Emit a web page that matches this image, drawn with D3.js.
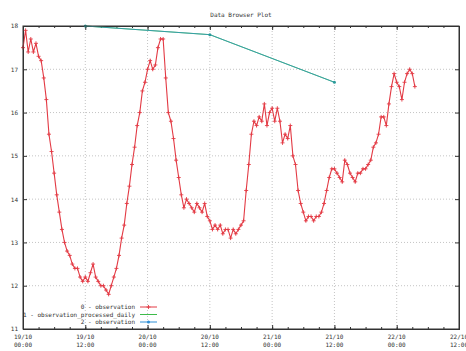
<!DOCTYPE html>
<html>
<head>
<meta charset="utf-8">
<script src="https://cdn.jsdelivr.net/npm/d3@7"></script>
<style>
  body { margin: 0; background: #fff; }
  text { font-family: "DejaVu Sans Mono", monospace; font-size: 6px; fill: #333; }
</style>
</head>
<body>
<svg id="chart"></svg>
<script>
const title = "Data Browser Plot";

// 0 - observation, one reading every 30 minutes from 19/10 00:00
const obsStart = new Date(Date.UTC(2008, 9, 19, 0, 0));
const obsStepMinutes = 30;
const observation = [
  17.5, 17.9, 17.4, 17.7, 17.4, 17.6, 17.3, 17.2, 16.8, 16.3,
  15.5, 15.1, 14.6, 14.1, 13.7, 13.3, 13.0, 12.8, 12.7, 12.5,
  12.4, 12.4, 12.2, 12.1, 12.2, 12.1, 12.3, 12.5, 12.2, 12.1,
  12.0, 12.0, 11.9, 11.8, 12.0, 12.2, 12.4, 12.7, 13.1, 13.4,
  13.9, 14.3, 14.8, 15.2, 15.7, 16.0, 16.5, 16.7, 17.0, 17.2,
  17.0, 17.1, 17.5, 17.7, 17.7, 16.8, 16.0, 15.8, 15.4, 14.9,
  14.5, 14.1, 13.8, 14.0, 13.9, 13.8, 13.7, 13.9, 13.8, 13.7,
  13.9, 13.6, 13.5, 13.3, 13.4, 13.3, 13.4, 13.2, 13.3, 13.3,
  13.1, 13.3, 13.2, 13.3, 13.4, 13.5, 14.2, 14.8, 15.5, 15.8,
  15.7, 15.9, 15.8, 16.2, 15.7, 16.0, 16.1, 15.8, 16.1, 15.8,
  15.3, 15.5, 15.4, 15.7, 15.0, 14.8, 14.2, 13.9, 13.7, 13.5,
  13.6, 13.6, 13.5, 13.6, 13.6, 13.7, 13.9, 14.2, 14.5, 14.7,
  14.7, 14.6, 14.5, 14.4, 14.9, 14.8, 14.6, 14.5, 14.4, 14.6,
  14.6, 14.7, 14.7, 14.8, 14.9, 15.2, 15.3, 15.5, 15.9, 15.9,
  15.7, 16.2, 16.6, 16.9, 16.7, 16.6, 16.3, 16.7, 16.9, 17.0,
  16.9, 16.6
];

// 1 - observation_processed_daily and 2 - observation (daily points)
const dailyDates = ["2008-10-19T12:00Z", "2008-10-20T12:00Z", "2008-10-21T12:00Z"];
const dailyValues = [18.0, 17.8, 16.7];

const legendLabels = ["0 - observation", "1 - observation_processed_daily", "2 - observation"];
const seriesColors = ["#e33a44", "#3dbb4a", "#2f8fd6"];

const width = 466, height = 351;
const margin = { top: 26, right: 7, bottom: 22, left: 23 };

const svg = d3.select("#chart")
  .attr("width", width)
  .attr("height", height);

const obsData = observation.map((v, i) => ({
  t: new Date(obsStart.getTime() + i * obsStepMinutes * 60000),
  v: v
}));
const dailyData = dailyDates.map((d, i) => ({ t: new Date(d), v: dailyValues[i] }));

const x = d3.scaleUtc()
  .domain([obsStart, new Date(Date.UTC(2008, 9, 22, 12, 0))])
  .range([margin.left, width - margin.right]);

const y = d3.scaleLinear()
  .domain([11, 18])
  .range([height - margin.bottom, margin.top]);

const majorX = x.ticks(d3.utcHour.every(12));
const minorX = x.ticks(d3.utcHour.every(3));
const majorY = d3.range(11, 19);

// dotted grid
const grid = svg.append("g").attr("stroke", "#c4c4c4").attr("stroke-dasharray", "1,2");
grid.selectAll(".gx")
  .data(majorX.slice(1, -1))
  .enter().append("line")
  .attr("x1", d => x(d)).attr("x2", d => x(d))
  .attr("y1", y(11)).attr("y2", y(18));
grid.selectAll(".gy")
  .data(majorY.slice(1, -1))
  .enter().append("line")
  .attr("x1", x.range()[0]).attr("x2", x.range()[1])
  .attr("y1", d => y(d)).attr("y2", d => y(d));

// inward ticks on all four sides
svg.append("g")
  .attr("transform", `translate(0,${y(11)})`)
  .call(d3.axisBottom(x).tickValues(minorX).tickSize(-2).tickFormat(""));
svg.append("g")
  .attr("transform", `translate(0,${y(18)})`)
  .call(d3.axisTop(x).tickValues(minorX).tickSize(-2).tickFormat(""));
svg.append("g")
  .attr("transform", `translate(0,${y(11)})`)
  .call(d3.axisBottom(x).tickValues(majorX).tickSize(-4).tickFormat(""));
svg.append("g")
  .attr("transform", `translate(0,${y(18)})`)
  .call(d3.axisTop(x).tickValues(majorX).tickSize(-4).tickFormat(""));
svg.append("g")
  .attr("transform", `translate(${x.range()[0]},0)`)
  .call(d3.axisLeft(y).tickValues(majorY).tickSize(-4).tickPadding(5).tickFormat(d3.format("d")));
svg.append("g")
  .attr("transform", `translate(${x.range()[1]},0)`)
  .call(d3.axisRight(y).tickValues(majorY).tickSize(-4).tickFormat(""));

svg.selectAll(".domain").attr("stroke", "#333");
svg.selectAll(".tick line").attr("stroke", "#333");
svg.selectAll(".tick text").attr("font-size", null).attr("font-family", null).attr("fill", null);

// two-line time labels under the bottom axis
const fmtDay = d3.utcFormat("%d/%m");
const fmtHour = d3.utcFormat("%H:%M");
const xl = svg.append("g").selectAll("text")
  .data(majorX)
  .enter().append("text")
  .attr("text-anchor", "middle")
  .attr("x", d => x(d))
  .attr("y", y(11) + 10);
xl.append("tspan").attr("x", d => x(d)).text(d => fmtDay(d));
xl.append("tspan").attr("x", d => x(d)).attr("dy", 8).text(d => fmtHour(d));

// title
svg.append("text")
  .attr("x", (x.range()[0] + x.range()[1]) / 2)
  .attr("y", 17)
  .attr("text-anchor", "middle")
  .text(title);

// series 0 : observation
const line = d3.line().x(d => x(d.t)).y(d => y(d.v));
svg.append("path")
  .datum(obsData)
  .attr("fill", "none")
  .attr("stroke", seriesColors[0])
  .attr("stroke-width", 1.1)
  .attr("d", line);

svg.append("g").selectAll("path")
  .data(obsData)
  .enter().append("path")
  .attr("transform", d => `translate(${x(d.t)},${y(d.v)})`)
  .attr("d", "M-2,0H2M0,-2V2")
  .attr("stroke", seriesColors[0])
  .attr("stroke-width", 0.9)
  .attr("fill", "none");

// series 1 and 2 : daily values, drawn on top of each other
svg.append("path")
  .datum(dailyData)
  .attr("fill", "none")
  .attr("stroke", seriesColors[1])
  .attr("stroke-width", 1)
  .attr("d", line);
svg.append("path")
  .datum(dailyData)
  .attr("fill", "none")
  .attr("stroke", seriesColors[2])
  .attr("stroke-width", 1)
  .attr("opacity", 0.65)
  .attr("d", line);
svg.append("g").selectAll("circle")
  .data(dailyData)
  .enter().append("circle")
  .attr("cx", d => x(d.t))
  .attr("cy", d => y(d.v))
  .attr("r", 1.5)
  .attr("fill", "#2a9a9a");

// legend, bottom left inside the plot
const lg = svg.append("g");
legendLabels.forEach((label, i) => {
  const ly = 307 + i * 7.5;
  lg.append("text")
    .attr("x", 135)
    .attr("y", ly + 2)
    .attr("text-anchor", "end")
    .text(label);
  lg.append("line")
    .attr("x1", 140).attr("x2", 157)
    .attr("y1", ly).attr("y2", ly)
    .attr("stroke", seriesColors[i])
    .attr("stroke-width", 1);
  if (i === 0) {
    lg.append("path")
      .attr("transform", `translate(148.5,${ly})`)
      .attr("d", "M-2,0H2M0,-2V2")
      .attr("stroke", seriesColors[0])
      .attr("stroke-width", 0.9);
  }
  if (i === 2) {
    lg.append("circle")
      .attr("cx", 148.5).attr("cy", ly).attr("r", 1.5)
      .attr("fill", seriesColors[2]);
  }
});

// frame on top
svg.append("rect")
  .attr("x", x.range()[0]).attr("y", y(18))
  .attr("width", x.range()[1] - x.range()[0])
  .attr("height", y(11) - y(18))
  .attr("fill", "none")
  .attr("stroke", "#333")
  .attr("stroke-width", 1);
</script>
</body>
</html>
